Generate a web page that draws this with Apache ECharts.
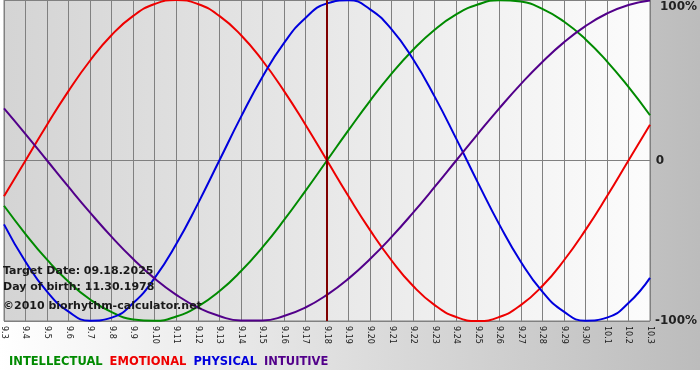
<!DOCTYPE html>
<html>
<head>
<meta charset="utf-8">
<script src="https://cdn.jsdelivr.net/npm/echarts@6/dist/echarts.min.js"></script>
<style>
    html, body { margin: 0; padding: 0; background: #ffffff; }
    #biorhythm { width: 700px; height: 380px; }
</style>
</head>
<body>
<div id="biorhythm"></div>
<script>
const days = ['9.3', '9.4', '9.5', '9.6', '9.7', '9.8', '9.9', '9.10', '9.11', '9.12', '9.13', '9.14',
    '9.15', '9.16', '9.17', '9.18', '9.19', '9.20', '9.21', '9.22', '9.23', '9.24', '9.25', '9.26',
    '9.27', '9.28', '9.29', '9.30', '10.1', '10.2', '10.3'];

const intellectual = [-28.2, -45.8, -61.8, -75.6, -86.6, -94.5, -99.0, -99.9, -97.2, -91.0, -81.5, -69.0,
    -54.1, -37.2, -18.9, 0, 18.9, 37.2, 54.1, 69.0, 81.5, 91.0, 97.2, 99.9, 99.0, 94.5, 86.6, 75.6, 61.8, 45.8, 28.2];
const emotional = [-22.3, 0, 22.3, 43.4, 62.3, 78.2, 90.1, 97.5, 100, 97.5, 90.1, 78.2, 62.3, 43.4, 22.3,
    0, -22.3, -43.4, -62.3, -78.2, -90.1, -97.5, -100, -97.5, -90.1, -78.2, -62.3, -43.4, -22.3, 0, 22.3];
const physical = [-39.8, -63.1, -81.7, -94.2, -99.8, -97.9, -88.8, -73.1, -52.0, -27.0, 0, 27.0, 52.0,
    73.1, 88.8, 97.9, 99.8, 94.2, 81.7, 63.1, 39.8, 13.6, -13.6, -39.8, -63.1, -81.7, -94.2, -99.8, -97.9, -88.8, -73.1];
const intuitive = [32.5, 16.5, 0, -16.5, -32.5, -47.6, -61.4, -73.6, -83.7, -91.6, -96.9, -99.7, -99.7,
    -96.9, -91.6, -83.7, -73.6, -61.4, -47.6, -32.5, -16.5, 0, 16.5, 32.5, 47.6, 61.4, 73.6, 83.7, 91.6, 96.9, 99.7];

const targetDay = '9.18';
const infoLines = ['Target Date: 09.18.2025', 'Day of birth: 11.30.1978', '©2010 biorhythm-calculator.net'];

const curves = [
    { name: 'INTELLECTUAL', color: '#008a00', data: intellectual },
    { name: 'EMOTIONAL', color: '#ee0000', data: emotional },
    { name: 'PHYSICAL', color: '#0000dd', data: physical },
    { name: 'INTUITIVE', color: '#52008a', data: intuitive }
];

const fontFamily = 'DejaVu Sans';

function getOption() {
    return {
        animation: false,
        backgroundColor: {
            type: 'linear', x: 0, y: 0, x2: 1, y2: 0,
            colorStops: [{ offset: 0, color: '#ffffff' }, { offset: 1, color: '#bcbcbc' }]
        },
        grid: {
            left: 0,
            right: 50,
            top: 0,
            bottom: 59,
            show: true,
            borderColor: '#808080',
            borderWidth: 1,
            backgroundColor: {
                type: 'linear', x: 0, y: 0, x2: 1, y2: 0,
                colorStops: [{ offset: 0, color: '#d4d4d4' }, { offset: 1, color: '#fcfcfc' }]
            }
        },
        legend: {
            left: 4,
            top: 356,
            icon: 'none',
            itemWidth: 0,
            itemHeight: 0,
            itemGap: 2,
            padding: 0,
            textStyle: { fontFamily: fontFamily, fontSize: 11.5, fontWeight: 'bold', padding: 0 },
            data: curves.map(c => ({ name: c.name, textStyle: { color: c.color } }))
        },
        xAxis: {
            type: 'category',
            data: days,
            boundaryGap: false,
            axisLine: { lineStyle: { color: '#808080' } },
            axisTick: { show: true, length: 4, interval: 0, lineStyle: { color: '#808080' } },
            axisLabel: {
                interval: 0,
                rotate: -90,
                margin: 5,
                color: '#1a1a1a',
                fontFamily: fontFamily,
                fontSize: 8
            },
            splitLine: { show: true, interval: 0, lineStyle: { color: '#808080', width: 1 } }
        },
        yAxis: {
            type: 'value',
            position: 'right',
            min: -100,
            max: 100,
            interval: 100,
            axisLine: { show: false },
            axisTick: { show: false },
            splitLine: { lineStyle: { color: '#808080', width: 1 } },
            axisLabel: {
                align: 'right',
                margin: 47,
                formatter: function (v) {
                    if (v === 100) return '{top|100%}';
                    if (v === 0) return '{zero|0}';
                    return '{n|' + v + '%}';
                },
                rich: {
                    top: { fontFamily: fontFamily, fontSize: 12, fontWeight: 'bold', color: '#222', padding: [14, 0, 0, 0] },
                    zero: { fontFamily: fontFamily, fontSize: 12, fontWeight: 'bold', color: '#222', padding: [0, 33, 0, 0] },
                    n: { fontFamily: fontFamily, fontSize: 12, fontWeight: 'bold', color: '#222' }
                }
            }
        },
        graphic: [
            { type: 'rect', left: 0, top: 370, shape: { width: 700, height: 10 }, style: { fill: '#ffffff' }, silent: true },
            ...infoLines.map((t, i) => ({
                type: 'text',
                left: 3,
                top: [266, 282, 301][i],
                z: 100,
                style: { text: t, fill: '#1a1a1a', font: 'bold 11px "DejaVu Sans"' }
            }))
        ],
        series: curves.map((c, i) => {
            const s = {
                name: c.name,
                type: 'line',
                data: c.data,
                smooth: 0.5,
                showSymbol: false,
                symbol: 'none',
                lineStyle: { color: c.color, width: 2 },
                itemStyle: { color: c.color }
            };
            if (i === 0) {
                s.markLine = {
                    silent: true,
                    symbol: 'none',
                    label: { show: false },
                    lineStyle: { color: '#800000', width: 2, type: 'solid' },
                    data: [{ xAxis: targetDay }]
                };
            }
            return s;
        })
    };
}

function drawChart() {
    let dom = document.getElementById('biorhythm');
    let chart = echarts.init(dom, null, { renderer: 'canvas' });
    chart.setOption(getOption());
}

drawChart();
</script>
</body>
</html>
